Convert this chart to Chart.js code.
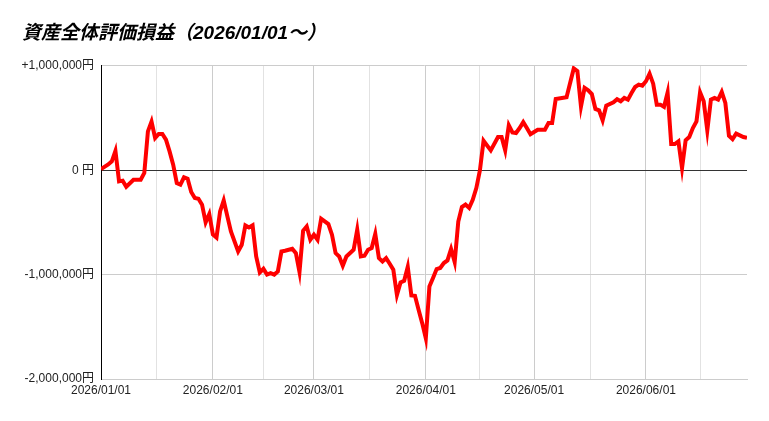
<!DOCTYPE html>
<html>
<head>
<meta charset="utf-8">
<script src="https://cdn.jsdelivr.net/npm/chart.js@4.4.1/dist/chart.umd.min.js"></script>
<style>
  html, body { margin: 0; padding: 0; background: #fff; }
  #wrap { width: 769px; height: 421px; }
</style>
</head>
<body>
<div id="wrap"><canvas id="pnlChart"></canvas></div>
<script>
// 日付と評価損益（円）
const dates = [
  "2026/01/01","2026/01/03","2026/01/04","2026/01/05","2026/01/06","2026/01/07","2026/01/08","2026/01/10",
  "2026/01/12","2026/01/13","2026/01/14","2026/01/15","2026/01/16","2026/01/17","2026/01/18","2026/01/19",
  "2026/01/20","2026/01/21","2026/01/22","2026/01/23","2026/01/24","2026/01/25","2026/01/26","2026/01/27",
  "2026/01/28","2026/01/29","2026/01/30","2026/01/31","2026/02/01","2026/02/02","2026/02/03","2026/02/04",
  "2026/02/05","2026/02/06","2026/02/08","2026/02/09","2026/02/10","2026/02/11","2026/02/12","2026/02/13",
  "2026/02/14","2026/02/15","2026/02/16","2026/02/17","2026/02/18","2026/02/19","2026/02/20","2026/02/21",
  "2026/02/23","2026/02/24","2026/02/25","2026/02/26","2026/02/27","2026/02/28","2026/03/01","2026/03/02",
  "2026/03/03","2026/03/04","2026/03/05","2026/03/06","2026/03/07","2026/03/08","2026/03/09","2026/03/10",
  "2026/03/12","2026/03/13","2026/03/14","2026/03/15","2026/03/16","2026/03/17","2026/03/18","2026/03/19",
  "2026/03/20","2026/03/21","2026/03/22","2026/03/23","2026/03/24","2026/03/25","2026/03/26","2026/03/27",
  "2026/03/28","2026/03/29","2026/03/30","2026/03/31","2026/04/01","2026/04/02","2026/04/03","2026/04/04",
  "2026/04/05","2026/04/06","2026/04/07","2026/04/08","2026/04/09","2026/04/10","2026/04/11","2026/04/12",
  "2026/04/13","2026/04/14","2026/04/15","2026/04/16","2026/04/17","2026/04/19","2026/04/21","2026/04/22",
  "2026/04/23","2026/04/24","2026/04/25","2026/04/26","2026/04/27","2026/04/28","2026/04/29","2026/04/30",
  "2026/05/02","2026/05/04","2026/05/05","2026/05/06","2026/05/07","2026/05/10","2026/05/12","2026/05/13",
  "2026/05/14","2026/05/15","2026/05/16","2026/05/17","2026/05/18","2026/05/19","2026/05/20","2026/05/21",
  "2026/05/23","2026/05/24","2026/05/25","2026/05/26","2026/05/27","2026/05/28","2026/05/29","2026/05/30",
  "2026/05/31","2026/06/01","2026/06/02","2026/06/03","2026/06/04","2026/06/05","2026/06/06","2026/06/07",
  "2026/06/08","2026/06/09","2026/06/10","2026/06/11","2026/06/12","2026/06/13","2026/06/14","2026/06/15",
  "2026/06/16","2026/06/17","2026/06/18","2026/06/19","2026/06/20","2026/06/21","2026/06/22","2026/06/23",
  "2026/06/24","2026/06/25","2026/06/26","2026/06/28","2026/06/29"
];
const profit = [
  10000, 55000, 85000, 185000, -107000, -100000, -158000, -91000,
  -91000, -27000, 372000, 465000, 309000, 347000, 347000, 292000,
  180000, 53000, -123000, -139000, -68000, -81000, -209000, -266000,
  -273000, -330000, -500000, -420000, -615000, -645000, -395000, -290000,
  -440000, -587000, -778000, -714000, -528000, -548000, -528000, -826000,
  -980000, -944000, -1000000, -986000, -1000000, -970000, -778000, -772000,
  -753000, -794000, -975000, -580000, -539000, -666000, -618000, -666000,
  -465000, -491000, -516000, -618000, -794000, -826000, -915000, -826000,
  -762000, -570000, -826000, -820000, -762000, -746000, -610000, -842000,
  -874000, -842000, -896000, -954000, -1195000, -1075000, -1059000, -925000,
  -1200000, -1203000, -1337000, -1465000, -1610000, -1114000, -1033000, -947000,
  -937000, -889000, -864000, -755000, -880000, -491000, -353000, -330000,
  -362000, -283000, -171000, 0, 282000, 190000, 318000, 318000,
  190000, 430000, 362000, 356000, 404000, 460000, 404000, 345000,
  388000, 388000, 452000, 452000, 682000, 698000, 975000, 950000,
  610000, 788000, 765000, 730000, 587000, 573000, 478000, 618000,
  650000, 680000, 660000, 692000, 676000, 740000, 797000, 820000,
  810000, 852000, 925000, 829000, 628000, 628000, 606000, 745000,
  250000, 250000, 276000, 20000, 286000, 318000, 404000, 468000,
  745000, 660000, 380000, 676000, 692000, 676000, 750000, 644000,
  330000, 298000, 350000, 318000, 310000
];
const monthStarts = ["2026/01/01","2026/02/01","2026/03/01","2026/04/01","2026/05/01","2026/06/01","2026/07/01"];
const yTicks = [1000000, 0, -1000000, -2000000];

function dayIndex(s) {
  const [y, m, d] = s.split("/").map(Number);
  return (Date.UTC(y, m - 1, d) - Date.UTC(2026, 0, 1)) / 86400000;
}

const points = dates.map((d, i) => ({ x: dayIndex(d), y: profit[i] }));
const lastDay = dayIndex(dates[dates.length - 1]);

// 月初 + 月の中間にグリッド
const xTicks = [];
for (let i = 0; i < monthStarts.length - 1; i++) {
  const a = dayIndex(monthStarts[i]);
  const b = dayIndex(monthStarts[i + 1]);
  xTicks.push({ value: a, label: monthStarts[i], major: true });
  if ((a + b) / 2 <= lastDay) xTicks.push({ value: (a + b) / 2, label: "", major: false });
}

function yenLabel(v) {
  if (v === 0) return "0 円";
  const s = Math.abs(v).toLocaleString("en-US") + "円";
  return (v > 0 ? "+" : "-") + s;
}

const baseFont = "'Liberation Sans', Arial, 'Noto Sans CJK JP', sans-serif";

new Chart(document.getElementById("pnlChart"), {
  type: "line",
  data: {
    datasets: [{
      label: "評価損益",
      data: points,
      borderColor: "#ff0000",
      borderWidth: 4,
      pointRadius: 0,
      tension: 0,
      fill: false
    }]
  },
  options: {
    responsive: true,
    maintainAspectRatio: false,
    animation: false,
    layout: { padding: { left: 22, right: 22, top: 0, bottom: 0 } },
    plugins: {
      legend: { display: false },
      tooltip: { enabled: false },
      title: {
        display: true,
        text: "資産全体評価損益（2026/01/01～）",
        align: "start",
        color: "#000",
        font: { family: baseFont, size: 19, weight: "bold", style: "italic" },
        padding: { top: 22, bottom: 21 }
      }
    },
    scales: {
      x: {
        type: "linear",
        min: 0,
        max: lastDay,
        afterBuildTicks: s => { s.ticks = xTicks.map(t => ({ value: t.value, major: t.major })); },
        afterFit: s => { s.height = 42; },
        ticks: {
          autoSkip: false,
          maxRotation: 0,
          padding: 4,
          color: "#222",
          font: { family: baseFont, size: 12 },
          callback: (v, i) => xTicks[i] ? xTicks[i].label : ""
        },
        grid: {
          drawTicks: false,
          color: c => (xTicks[c.index] && xTicks[c.index].major) ? "#cccccc" : "#e2e2e2"
        },
        border: { color: "#cccccc" }
      },
      y: {
        min: -2000000,
        max: 1000000,
        afterBuildTicks: s => { s.ticks = yTicks.map(v => ({ value: v })); },
        afterFit: s => { s.width = 79; },
        ticks: {
          padding: 7,
          color: "#222",
          font: { family: baseFont, size: 12 },
          callback: v => yenLabel(v)
        },
        grid: {
          drawTicks: false,
          color: c => c.tick && c.tick.value === 0 ? "#333333" : "#cccccc"
        },
        border: { color: "#000000" }
      }
    }
  }
});
</script>
</body>
</html>
